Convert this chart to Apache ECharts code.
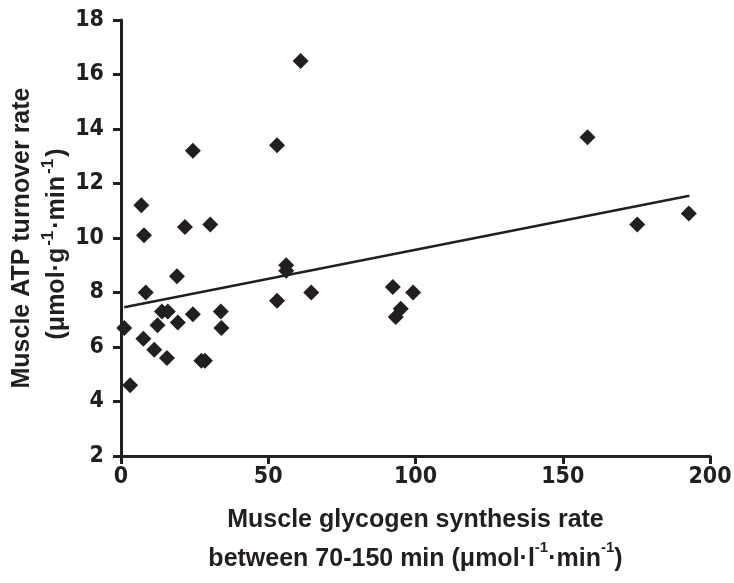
<!DOCTYPE html>
<html>
<head>
<meta charset="utf-8">
<script src="https://cdn.jsdelivr.net/npm/echarts@6/dist/echarts.min.js"></script>
<style>html,body{margin:0;padding:0;background:#fff}#c{width:734px;height:583px}</style>
</head>
<body>
<div id="c"></div>
<script>
var glycogenRate = [1.1, 3.1, 6.9, 7.6, 7.8, 8.4, 11.3, 12.4, 13.9, 15.9, 15.6, 19.0, 19.3, 21.7, 24.4, 24.4, 27.3, 28.5, 30.3, 33.9, 34.1, 53.0, 53.0, 56.1, 56.1, 61.0, 64.6, 92.3, 93.3, 95.0, 99.2, 158.4, 175.3, 192.8];
var atpTurnover  = [6.7, 4.6, 11.2, 6.3, 10.1, 8.0, 5.9, 6.8, 7.3, 7.3, 5.6, 8.6, 6.9, 10.4, 13.2, 7.2, 5.5, 5.5, 10.5, 7.3, 6.7, 13.4, 7.7, 9.0, 8.8, 16.5, 8.0, 8.2, 7.1, 7.4, 8.0, 13.7, 10.5, 10.9];
var fitLineX = [1.1, 193.0];
var fitLineY = [7.46, 11.55];
var xTicks = [0, 50, 100, 150, 200];
var yTicks = [2, 4, 6, 8, 10, 12, 14, 16, 18];

var ink = '#231f20';
var font = 'Liberation Sans, Arial, sans-serif';
var narrow = '"Liberation Sans Narrow", "Arial Narrow", "DejaVu Sans Condensed", sans-serif';
var chart = echarts.init(document.getElementById('c'), null, {renderer: 'canvas'});
var pts = glycogenRate.map(function (x, i) { return [x, atpTurnover[i]]; });
var fit = fitLineX.map(function (x, i) { return [x, fitLineY[i]]; });
var supStyle = {fontSize: 15, fontWeight: 'bold', fontFamily: font, color: ink, verticalAlign: 'top', lineHeight: 16, padding: [0, 0, 12, 0]};
var supStyleY = {fontSize: 17, fontWeight: 'bold', fontFamily: font, color: ink, verticalAlign: 'top', lineHeight: 17, padding: [0, 2, 12, 2]};
chart.setOption({
  animation: false,
  backgroundColor: '#fff',
  grid: {left: 121, right: 24, top: 20, bottom: 127, containLabel: false, outerBoundsMode: 'none'},
  xAxis: {
    type: 'value', min: xTicks[0], max: xTicks[xTicks.length - 1], interval: 50,
    axisLine: {lineStyle: {color: ink, width: 3}},
    axisTick: {show: true, length: 8, lineStyle: {color: ink, width: 3}},
    splitLine: {show: false},
    axisLabel: {color: ink, fontSize: 23, fontWeight: 'bold', fontFamily: narrow, margin: 10},
    name: 'Muscle glycogen synthesis rate\nbetween 70-150 min (μmol·l{sup|-1}·min{sup|-1})',
    nameLocation: 'middle', nameGap: 45, nameMoveOverlap: false,
    nameTextStyle: {color: ink, fontSize: 25, fontWeight: 'bold', fontFamily: font, lineHeight: 39, rich: {sup: supStyle}}
  },
  yAxis: {
    type: 'value', min: yTicks[0], max: yTicks[yTicks.length - 1], interval: 2,
    axisLine: {show: true, lineStyle: {color: ink, width: 3}},
    axisTick: {show: true, length: 8, lineStyle: {color: ink, width: 3}},
    splitLine: {show: false},
    axisLabel: {color: ink, fontSize: 23, fontWeight: 'bold', fontFamily: narrow, margin: 17},
    name: 'Muscle ATP turnover rate\n(μmol·g{sup|-1}·min{sup|-1}){pad| }',
    nameLocation: 'middle', nameRotate: 90, nameGap: 46, nameMoveOverlap: false,
    nameTextStyle: {color: ink, fontSize: 25, fontWeight: 'bold', fontFamily: font, lineHeight: 35, rich: {sup: supStyleY, pad: {width: 12, fontSize: 25}}}
  },
  series: [
    {type: 'scatter', data: pts, symbol: 'diamond', symbolSize: 16, itemStyle: {color: ink, opacity: 1}, z: 3},
    {type: 'line', data: fit, symbol: 'none', lineStyle: {color: ink, width: 2.5}, z: 2}
  ]
});
</script>
</body>
</html>
